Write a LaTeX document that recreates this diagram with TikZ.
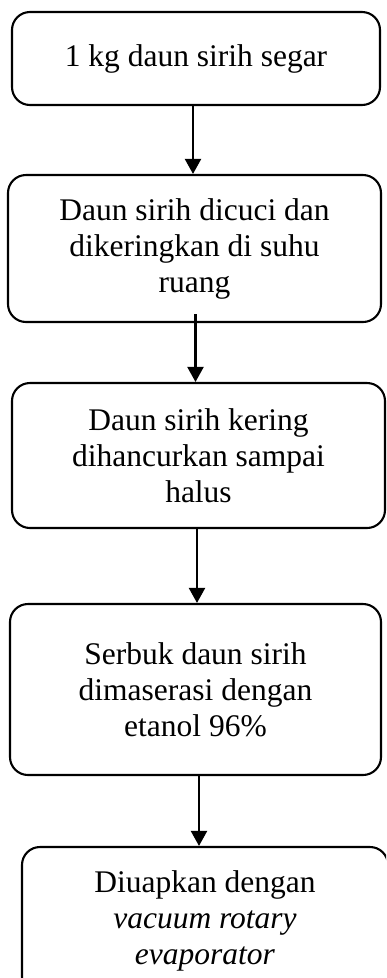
\documentclass[tikz,border=0pt]{standalone}
\usepackage{fontspec}
\setmainfont{Liberation Serif}
\usetikzlibrary{arrows.meta}
\begin{document}
\begin{tikzpicture}[x=1pt,y=-1pt,
  stepbox/.style={draw=black, line width=2.1pt, rounded corners=18pt,
    inner sep=0pt, align=center, font=\fontsize{31.5}{36}\selectfont},
  flow/.style={draw=black, line width=2.1pt,
    -{Triangle[length=15pt,width=16pt]}}]
\useasboundingbox (0,0) rectangle (386,978);
\clip (0,0) rectangle (386,978);
% process steps
\node[stepbox, minimum width=368pt, minimum height=93pt] (b1) at (196,58.5)
  {1 kg daun sirih segar};
\node[stepbox, minimum width=373pt, minimum height=147pt] (b2) at (194.5,248.5)
  {Daun sirih dicuci dan\\dikeringkan di suhu\\ruang};
\node[stepbox, minimum width=373pt, minimum height=145pt] (b3) at (198.5,455.5)
  {Daun sirih kering\\dihancurkan sampai\\halus};
\node[stepbox, minimum width=371pt, minimum height=171pt] (b4) at (195.5,689.5)
  {Serbuk daun sirih\\dimaserasi dengan\\etanol 96\%};
\node[stepbox, minimum width=366pt, minimum height=148pt] (b5) at (205,921)
  {Diuapkan dengan\\\textit{vacuum rotary}\\\textit{evaporator}};
% connectors
\draw[flow] (b1.south -| 193,0) -- (b2.north -| 193,0);
\draw[flow] ([yshift=9pt]b2.south -| 195.5,0) -- (b3.north -| 195.5,0);
\draw[flow] (b3.south -| 197,0) -- (b4.north -| 197,0);
\draw[flow] (b4.south -| 199,0) -- (b5.north -| 199,0);
\end{tikzpicture}
\end{document}
